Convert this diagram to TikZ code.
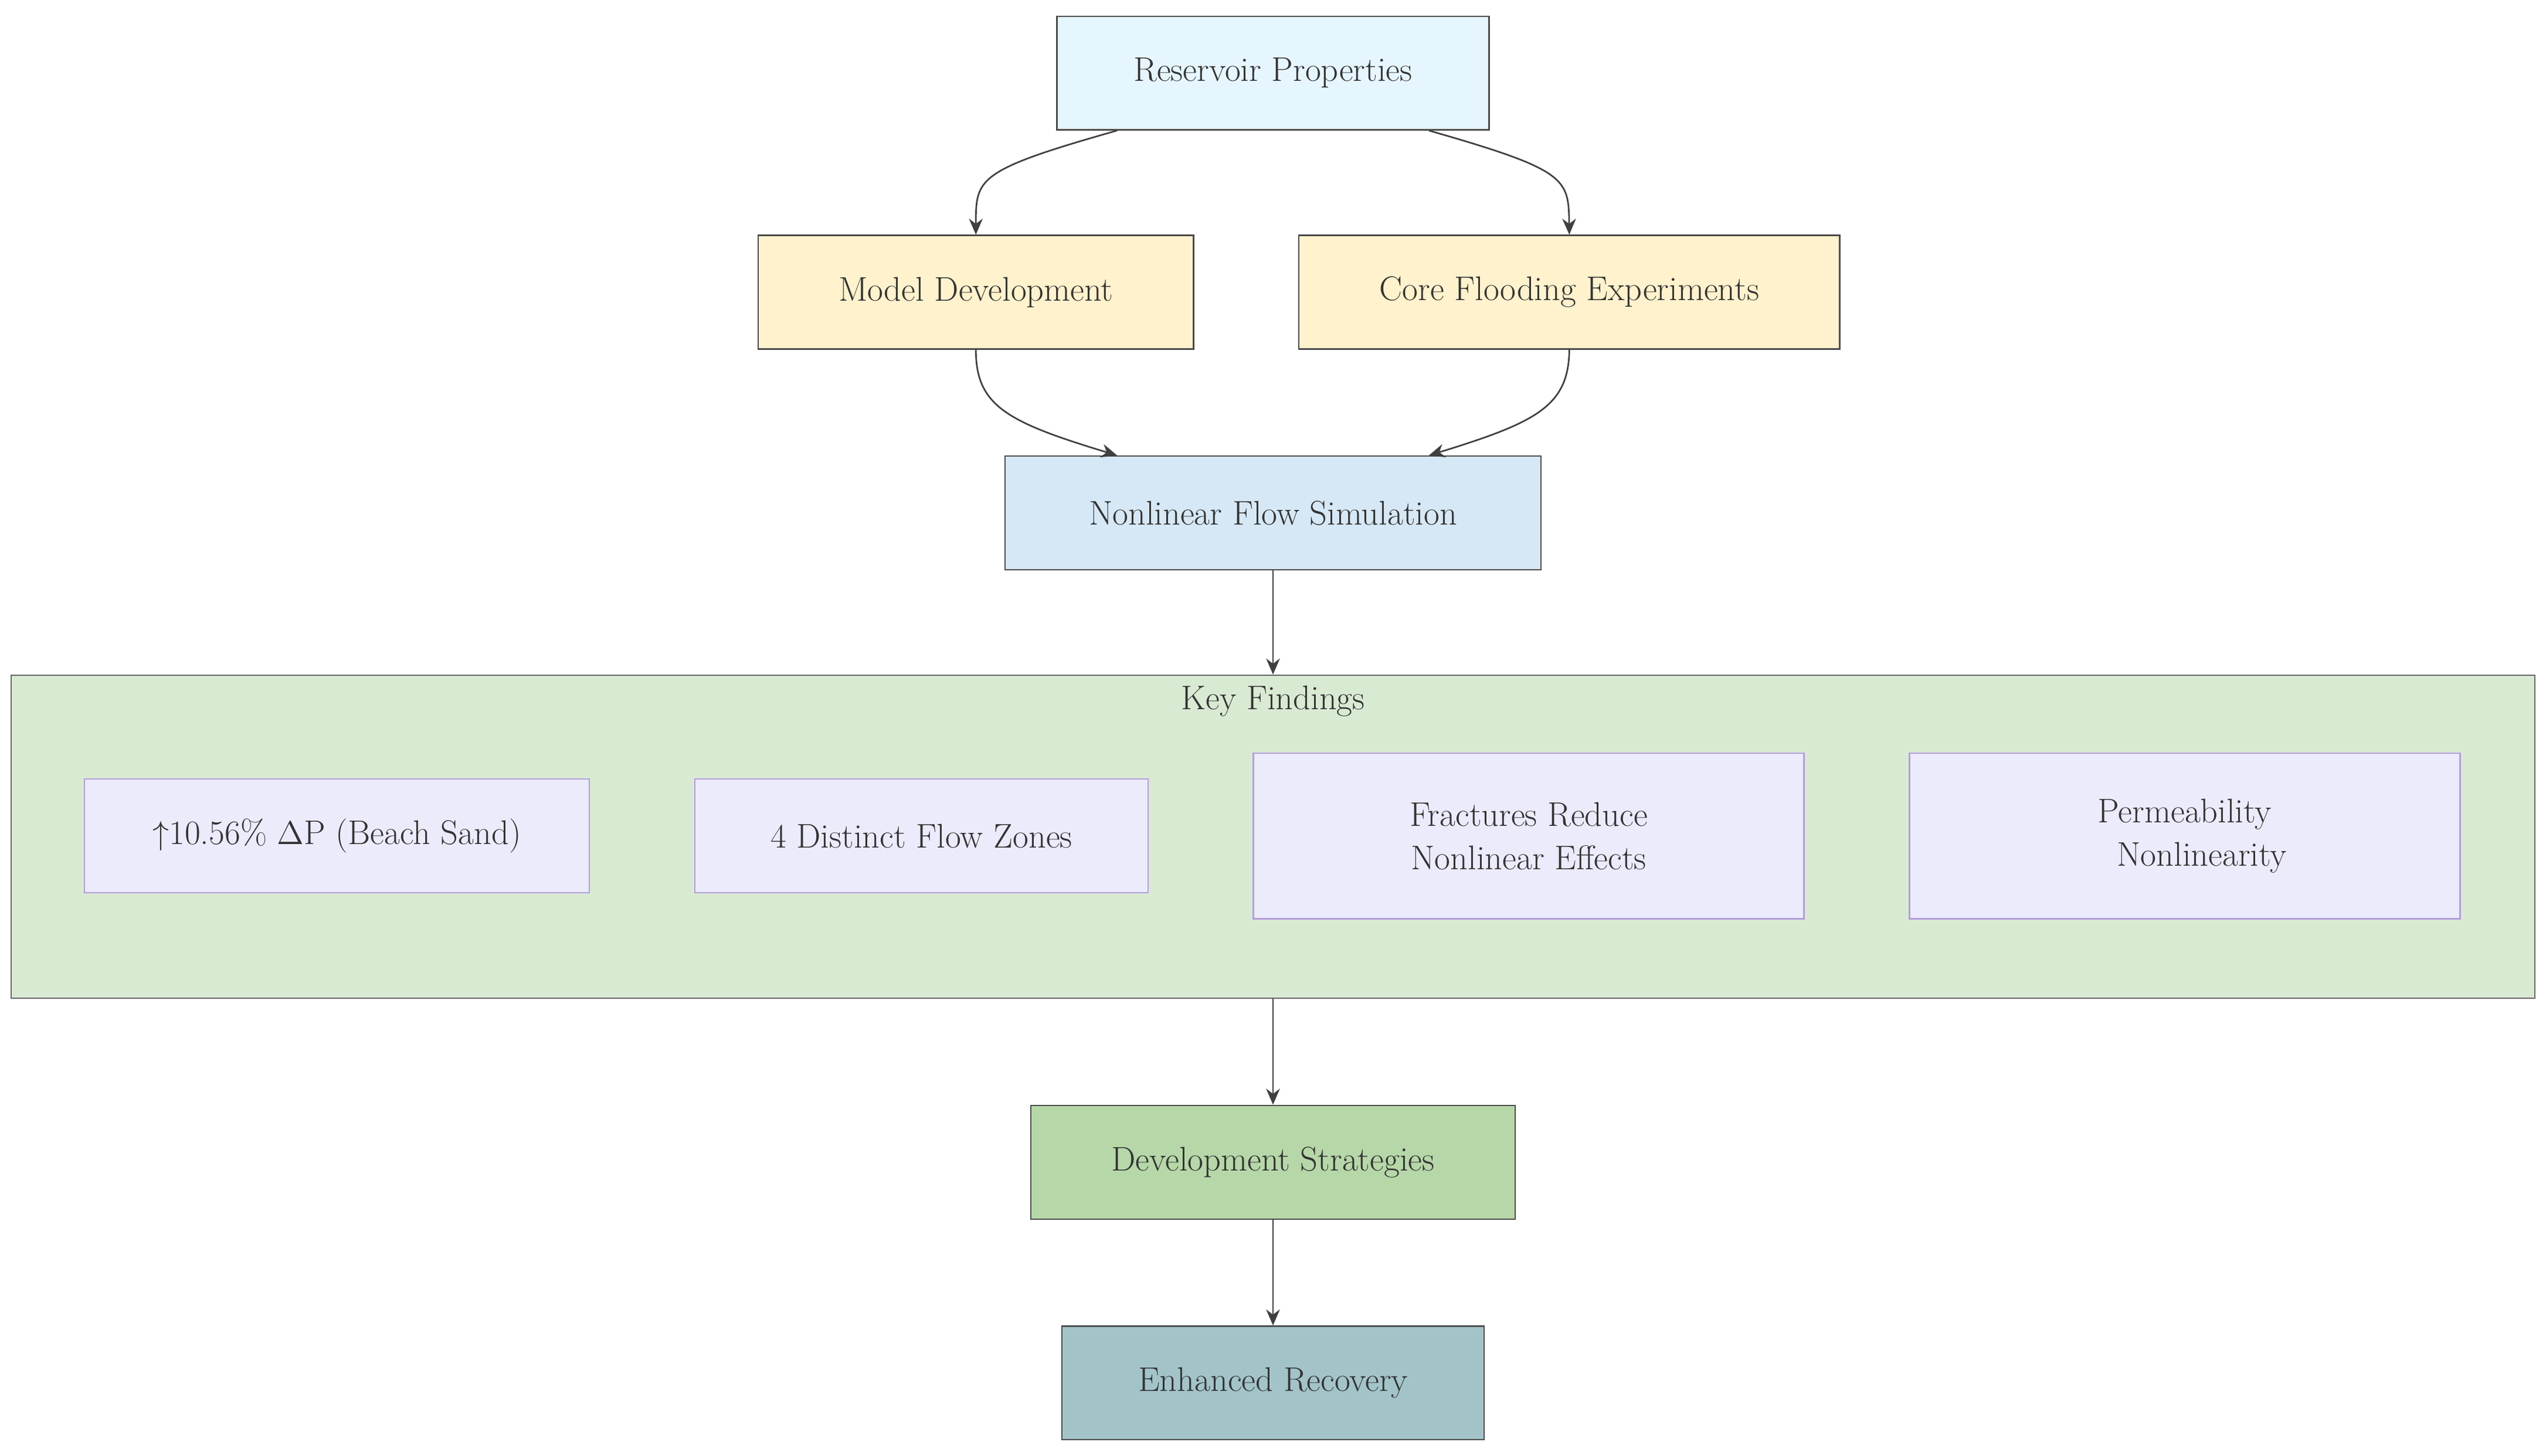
\documentclass[tikz,border=0pt]{standalone}
\usetikzlibrary{arrows.meta}
\definecolor{cRP}{HTML}{E6F6FF}
\definecolor{cMD}{HTML}{FFF2CC}
\definecolor{cNF}{HTML}{D6E8F5}
\definecolor{cKF}{HTML}{D9EAD3}
\definecolor{cIN}{HTML}{ECEBFC}
\definecolor{cINd}{HTML}{B39DDB}
\definecolor{cDS}{HTML}{B6D7A8}
\definecolor{cER}{HTML}{A2C4C9}
\begin{document}
\begin{tikzpicture}[x=0.025cm,y=-0.025cm,
  box/.style={draw=black!70,line width=0.6pt,minimum height=1.75cm,font=\fontsize{15}{18}\selectfont,text=black!80,align=center},
  inner/.style={draw=cINd,fill=cIN,line width=0.6pt,minimum height=1.75cm,font=\fontsize{15}{19}\selectfont,text=black!80,align=center},
  arr/.style={-{Stealth[length=7pt,width=6pt]},line width=0.7pt,black!75}]
\useasboundingbox[fill=white] (0,0) rectangle (1568,897);
\node[box,fill=cRP,minimum width=6.65cm] (rp) at (784,45) {Reservoir Properties};
\node[box,fill=cMD,minimum width=6.7cm] (md) at (601,180) {Model Development};
\node[box,fill=cMD,minimum width=8.325cm] (cf) at (966.5,180) {Core Flooding Experiments};
\node[box,fill=cNF,minimum width=8.25cm] (nf) at (784,316) {Nonlinear Flow Simulation};
\node[box,fill=cKF,draw=black!60,minimum width=38.85cm,minimum height=4.975cm] (kf) at (784,515.5) {};
\node[font=\fontsize{15}{18}\selectfont,text=black!80] (kft) at (784,432) {Key Findings};
\node[inner,minimum width=7.775cm] (b1) at (207.5,515) {$\uparrow$10.56\% $\Delta$P (Beach Sand)};
\node[inner,minimum width=6.975cm] (b2) at (567.5,515) {4 Distinct Flow Zones};
\node[inner,minimum width=8.475cm,minimum height=2.55cm] (b3) at (941.5,515) {Fractures Reduce\\Nonlinear Effects};
\node[inner,minimum width=8.475cm,minimum height=2.55cm] (b4) at (1345.5,515) {Permeability\\\quad Nonlinearity};
\node[box,fill=cDS,minimum width=7.45cm] (ds) at (784,716) {Development Strategies};
\node[box,fill=cER,minimum width=6.5cm] (er) at (784,852) {Enhanced Recovery};
\draw[arr] ([xshift=-2.4cm]rp.south) .. controls (601,105) and (601,110) .. (md.north);
\draw[arr] ([xshift=2.4cm]rp.south) .. controls (966,105) and (966,110) .. (cf.north);
\draw[arr] (md.south) .. controls (601,250) and (620,260) .. ([xshift=-2.4cm]nf.north);
\draw[arr] (cf.south) .. controls (966,250) and (947,260) .. ([xshift=2.4cm]nf.north);
\draw[arr] (nf.south) -- (kf.north);
\draw[arr] (kf.south) -- (ds.north);
\draw[arr] (ds.south) -- (er.north);
\end{tikzpicture}
\end{document}
